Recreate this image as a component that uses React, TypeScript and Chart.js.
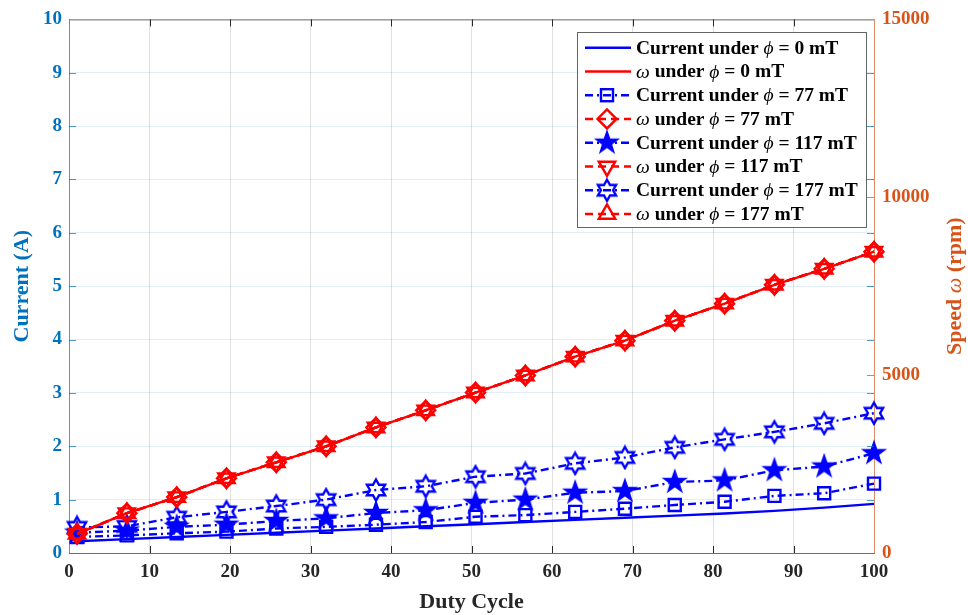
import React, { useEffect, useRef } from 'react';
import { Chart, registerables } from 'chart.js';

Chart.register(...registerables);

// ---------- data ----------
const dutyCycle = [1, 7.19, 13.38, 19.56, 25.75, 31.94, 38.13, 44.31, 50.5, 56.69, 62.88, 69.06, 75.25, 81.44, 87.63, 93.81, 100];

const current0mT = [0.22, 0.26, 0.30, 0.34, 0.38, 0.42, 0.46, 0.50, 0.54, 0.58, 0.62, 0.66, 0.70, 0.74, 0.79, 0.85, 0.92];
const current77mT = [0.30, 0.33, 0.37, 0.40, 0.46, 0.49, 0.53, 0.58, 0.68, 0.71, 0.77, 0.83, 0.90, 0.96, 1.07, 1.12, 1.30];
const current117mT = [0.38, 0.42, 0.49, 0.53, 0.60, 0.65, 0.75, 0.80, 0.94, 1.00, 1.13, 1.16, 1.33, 1.36, 1.55, 1.62, 1.87];
const current177mT = [0.48, 0.50, 0.67, 0.77, 0.88, 1.00, 1.18, 1.25, 1.43, 1.49, 1.68, 1.79, 1.98, 2.13, 2.27, 2.43, 2.62];

const speed0mT = [540, 1120, 1570, 2100, 2550, 3000, 3530, 4010, 4510, 4990, 5520, 5970, 6530, 7010, 7540, 7990, 8470];
const speed77mT = [540, 1120, 1570, 2100, 2550, 3000, 3530, 4010, 4510, 4990, 5520, 5970, 6530, 7010, 7540, 7990, 8470];
const speed117mT = [540, 1120, 1570, 2100, 2550, 3000, 3530, 4010, 4510, 4990, 5520, 5970, 6530, 7010, 7540, 7990, 8470];
const speed177mT = [540, 1120, 1570, 2100, 2550, 3000, 3530, 4010, 4510, 4990, 5520, 5970, 6530, 7010, 7540, 7990, 8470];

const fieldLabels = ['0', '77', '117', '177'];

const xMin = 0, xMax = 100, xStep = 10;
const currentMin = 0, currentMax = 10, currentStep = 1;
const speedMin = 0, speedMax = 15000, speedStep = 5000;

const xTitle = 'Duty Cycle';
const leftTitle = 'Current (A)';

// ---------- styles ----------
const BLUE = 'rgb(0,0,255)';
const RED = 'rgb(255,0,0)';
const AX_BLUE = 'rgb(0,114,189)';
const AX_ORANGE = 'rgb(217,83,25)';
const SERIF = '"Liberation Serif", "Times New Roman", serif';
const DASH_DOT = [8, 4, 2, 4];
const DASH = [8, 5];
const LW = 2.4;

function starCanvas(points: number, outerR: number, innerR: number, color: string, filled: boolean) {
  const size = Math.ceil(outerR * 2 + 5);
  const c = document.createElement('canvas');
  c.width = size;
  c.height = size;
  const ctx = c.getContext('2d')!;
  const cx = size / 2, cy = size / 2;
  ctx.beginPath();
  for (let i = 0; i < points * 2; i++) {
    const r = i % 2 === 0 ? outerR : innerR;
    const a = -Math.PI / 2 + (i * Math.PI) / points;
    const x = cx + r * Math.cos(a), y = cy + r * Math.sin(a);
    if (i === 0) ctx.moveTo(x, y); else ctx.lineTo(x, y);
  }
  ctx.closePath();
  if (filled) {
    ctx.fillStyle = color;
    ctx.fill();
  }
  ctx.lineWidth = filled ? 1.5 : LW;
  ctx.strokeStyle = color;
  ctx.stroke();
  return c;
}

const toPoints = (ys: number[]) => dutyCycle.map((x, i) => ({ x, y: ys[i] }));

type Seg = { t: string; it?: boolean };

function drawSegs(ctx: CanvasRenderingContext2D, segs: Seg[], x: number, y: number, size: number, color: string, align: 'left' | 'center') {
  const fontFor = (s: Seg) => (s.it ? `italic ${size}px ${SERIF}` : `bold ${size}px ${SERIF}`);
  let total = 0;
  for (const s of segs) {
    ctx.font = fontFor(s);
    total += ctx.measureText(s.t).width;
  }
  let cx = align === 'center' ? x - total / 2 : x;
  ctx.fillStyle = color;
  ctx.textBaseline = 'middle';
  ctx.textAlign = 'left';
  for (const s of segs) {
    ctx.font = fontFor(s);
    ctx.fillText(s.t, cx, y);
    cx += ctx.measureText(s.t).width;
  }
}

function drawMarker(ctx: CanvasRenderingContext2D, style: any, x: number, y: number, color: string) {
  ctx.save();
  ctx.strokeStyle = color;
  ctx.lineWidth = LW;
  ctx.setLineDash([]);
  if (style instanceof HTMLCanvasElement) {
    ctx.drawImage(style, x - style.width / 2, y - style.height / 2);
  } else if (style === 'rect') {
    const h = 8.5 * Math.SQRT1_2;
    ctx.strokeRect(x - h, y - h, 2 * h, 2 * h);
  } else if (style === 'rectRot') {
    const r = 9.5;
    ctx.beginPath();
    ctx.moveTo(x, y - r); ctx.lineTo(x + r, y); ctx.lineTo(x, y + r); ctx.lineTo(x - r, y);
    ctx.closePath(); ctx.stroke();
  } else if (style === 'triUp' || style === 'triDown') {
    const r = 9.5;
    const s = style === 'triUp' ? 1 : -1;
    ctx.beginPath();
    for (let i = 0; i < 3; i++) {
      const a = -Math.PI / 2 + (i * 2 * Math.PI) / 3;
      const px = x + r * Math.cos(a), py = y + s * r * Math.sin(a);
      if (i === 0) ctx.moveTo(px, py); else ctx.lineTo(px, py);
    }
    ctx.closePath(); ctx.stroke();
  }
  ctx.restore();
}

export default function App() {
  const ref = useRef<HTMLCanvasElement | null>(null);

  useEffect(() => {
    document.body.style.margin = '0';
    const canvas = ref.current!;
    const filledStar = starCanvas(5, 11.5, 4.5, BLUE, true);
    const hexagram = starCanvas(6, 10.5, 10.5 / Math.sqrt(3), BLUE, false);

    const base = { borderWidth: LW, tension: 0, clip: false as any, pointBorderWidth: LW, pointBackgroundColor: 'rgba(0,0,0,0)' };

    const datasets: any[] = [
      { ...base, label: `Current ${fieldLabels[0]}`, data: toPoints(current0mT), yAxisID: 'y', borderColor: BLUE, pointRadius: 0, order: 100 },
      { ...base, label: `Speed ${fieldLabels[0]}`, data: toPoints(speed0mT), yAxisID: 'y2', borderColor: RED, pointRadius: 0, order: 50 },
      { ...base, label: `Current ${fieldLabels[1]}`, data: toPoints(current77mT), yAxisID: 'y', borderColor: BLUE, borderDash: DASH_DOT, pointStyle: 'rect', pointRadius: 8.5, pointBorderColor: BLUE, order: 98 },
      { ...base, label: `Speed ${fieldLabels[1]}`, data: toPoints(speed77mT), yAxisID: 'y2', borderColor: RED, borderDash: DASH, pointStyle: 'rectRot', pointRadius: 9.5, pointBorderColor: RED, order: 48 },
      { ...base, label: `Current ${fieldLabels[2]}`, data: toPoints(current117mT), yAxisID: 'y', borderColor: BLUE, borderDash: DASH_DOT, pointStyle: filledStar, pointRadius: 11, pointBorderColor: BLUE, order: 96 },
      { ...base, label: `Speed ${fieldLabels[2]}`, data: toPoints(speed117mT), yAxisID: 'y2', borderColor: RED, borderDash: DASH, pointStyle: 'triangle', pointRotation: 180, pointRadius: 9.5, pointBorderColor: RED, order: 46 },
      { ...base, label: `Current ${fieldLabels[3]}`, data: toPoints(current177mT), yAxisID: 'y', borderColor: BLUE, borderDash: DASH_DOT, pointStyle: hexagram, pointRadius: 10, pointBorderColor: BLUE, order: 94 },
      { ...base, label: `Speed ${fieldLabels[3]}`, data: toPoints(speed177mT), yAxisID: 'y2', borderColor: RED, borderDash: DASH, pointStyle: 'triangle', pointRadius: 9.5, pointBorderColor: RED, order: 44 },
    ];

    const legendItems: { segs: Seg[]; color: string; dash: number[]; marker: any }[] = [];
    const markers = [null, 'rect', filledStar, hexagram];
    const redMarkers = [null, 'rectRot', 'triDown', 'triUp'];
    fieldLabels.forEach((f, i) => {
      legendItems.push({
        segs: [{ t: 'Current under ' }, { t: 'ϕ', it: true }, { t: ` = ${f} mT` }],
        color: BLUE, dash: i === 0 ? [] : DASH_DOT, marker: markers[i],
      });
      legendItems.push({
        segs: [{ t: 'ω', it: true }, { t: ' under ' }, { t: 'ϕ', it: true }, { t: ` = ${f} mT` }],
        color: RED, dash: i === 0 ? [] : DASH, marker: redMarkers[i],
      });
    });

    const decor = {
      id: 'decor',
      afterDatasetsDraw(chart: any) {
        const ctx: CanvasRenderingContext2D = chart.ctx;
        const { left, right, top, bottom } = chart.chartArea;
        const xs = chart.scales.x, ys = chart.scales.y, y2 = chart.scales.y2;
        ctx.save();
        // top border
        ctx.strokeStyle = 'rgb(110,110,110)';
        ctx.lineWidth = 1;
        ctx.beginPath();
        ctx.moveTo(left, top + 0.5); ctx.lineTo(right, top + 0.5);
        ctx.stroke();
        // x ticks
        ctx.strokeStyle = 'rgb(40,40,40)';
        for (let v = xMin + xStep; v < xMax; v += xStep) {
          const px = Math.round(xs.getPixelForValue(v)) + 0.5;
          ctx.beginPath();
          ctx.moveTo(px, bottom); ctx.lineTo(px, bottom - 7);
          ctx.moveTo(px, top); ctx.lineTo(px, top + 7);
          ctx.stroke();
        }
        // left-axis ticks, mirrored on right
        ctx.strokeStyle = 'rgba(0,114,189,0.7)';
        for (let v = currentMin + currentStep; v < currentMax; v += currentStep) {
          const py = Math.round(ys.getPixelForValue(v)) + 0.5;
          ctx.beginPath();
          ctx.moveTo(left, py); ctx.lineTo(left + 7, py);
          ctx.moveTo(right, py); ctx.lineTo(right - 7, py);
          ctx.stroke();
        }
        ctx.strokeStyle = 'rgba(217,83,25,0.75)';
        for (let v = speedMin + speedStep; v < speedMax; v += speedStep) {
          const py = Math.round(y2.getPixelForValue(v)) + 0.5;
          ctx.beginPath();
          ctx.moveTo(right, py); ctx.lineTo(right - 7, py);
          ctx.stroke();
        }
        // legend
        const bx = 577, by = 32, bw = 289, bh = 195;
        ctx.fillStyle = '#fff';
        ctx.fillRect(bx, by, bw, bh);
        ctx.strokeStyle = 'rgb(100,100,100)';
        ctx.lineWidth = 1;
        ctx.strokeRect(bx + 0.5, by + 0.5, bw, bh);
        legendItems.forEach((it, i) => {
          const y = 47.7 + i * 23.75;
          ctx.save();
          ctx.strokeStyle = it.color;
          ctx.lineWidth = LW;
          ctx.setLineDash(it.dash);
          ctx.beginPath();
          ctx.moveTo(585, y); ctx.lineTo(631, y);
          ctx.stroke();
          ctx.restore();
          if (it.marker) drawMarker(ctx, it.marker, 607, y, it.color);
          drawSegs(ctx, it.segs, 636, y + 1, 19.5, '#000', 'left');
        });
        // right title, rotated like the left one
        ctx.save();
        ctx.translate(955, (top + bottom) / 2);
        ctx.rotate(-Math.PI / 2);
        drawSegs(ctx, [{ t: 'Speed ' }, { t: 'ω', it: true }, { t: ' (rpm)' }], 0, 0, 22, AX_ORANGE, 'center');
        ctx.restore();
        ctx.restore();
      },
    };

    const tickFont = { family: SERIF, size: 19, weight: 'bold' as const };
    const titleFont = { family: SERIF, size: 22, weight: 'bold' as const };

    const chart = new Chart(canvas, {
      type: 'line',
      data: { datasets },
      options: {
        responsive: false,
        animation: false,
        events: [],
        layout: { padding: { top: 18, left: 0, right: 0, bottom: 0 } },
        plugins: { legend: { display: false }, tooltip: { enabled: false } },
        scales: {
          x: {
            type: 'linear',
            min: xMin, max: xMax,
            ticks: { stepSize: xStep, color: 'rgb(38,38,38)', font: tickFont, padding: 8 },
            grid: { color: 'rgba(0,0,0,0.12)', drawTicks: false },
            border: { color: 'rgb(110,110,110)', width: 1 },
            title: { display: true, text: xTitle, color: 'rgb(38,38,38)', font: titleFont, padding: { top: 0, bottom: -1 } },
            afterFit: (s: any) => { s.height = 62; },
          },
          y: {
            type: 'linear',
            position: 'left',
            min: currentMin, max: currentMax,
            ticks: { stepSize: currentStep, color: AX_BLUE, font: tickFont, padding: 7 },
            grid: { color: 'rgba(0,114,189,0.12)', drawTicks: false },
            border: { color: 'rgba(0,114,189,0.65)', width: 1 },
            title: { display: true, text: leftTitle, color: AX_BLUE, font: titleFont, padding: { top: 9, bottom: 0 } },
            afterFit: (s: any) => { s.width = 69; },
          },
          y2: {
            type: 'linear',
            position: 'right',
            min: speedMin, max: speedMax,
            ticks: { stepSize: speedStep, color: AX_ORANGE, font: tickFont, padding: 8, callback: (v: any) => String(v) },
            grid: { display: false, drawTicks: false },
            border: { color: 'rgba(217,83,25,0.6)', width: 1 },
            afterFit: (s: any) => { s.width = 94; },
          },
        },
      } as any,
      plugins: [decor],
    });
    return () => chart.destroy();
  }, []);

  return (
    <div style={{ width: 968, height: 615, background: '#fff' }}>
      <canvas ref={ref} width={968} height={615} />
    </div>
  );
}
